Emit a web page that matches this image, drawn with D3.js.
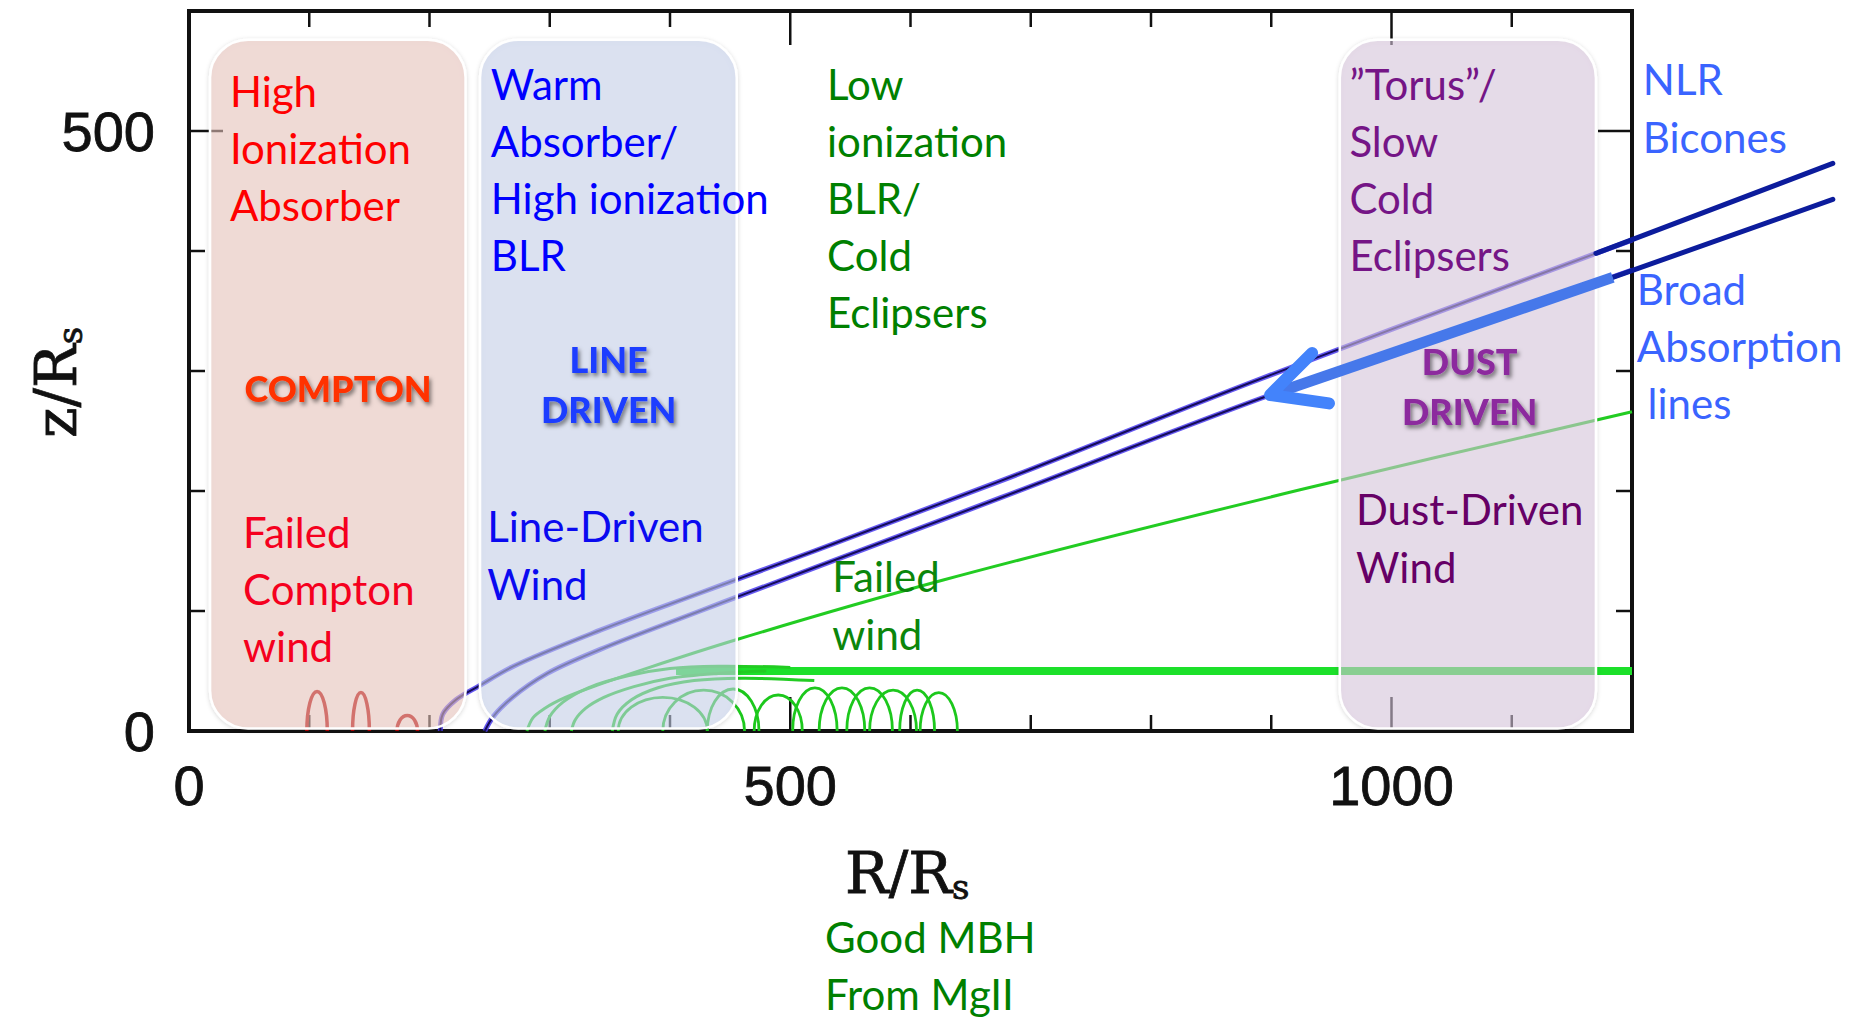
<!doctype html>
<html lang="en">
<head>
    <meta charset="utf-8">
    <title>AGN wind regimes</title>
    <script src="https://d3js.org/d3.v7.min.js"></script>
    <style>
        body { margin: 0; background: #fff; }
        svg text { font-family: Lato, "Open Sans", sans-serif; }
    </style>
</head>
<body>
<svg id="chart" width="1873" height="1021"></svg>
<script>
    // axis ticks (R/Rs and z/Rs)
    const xMajorTicks = [0, 500, 1000]
    const xMinorTicks = [100, 200, 300, 400, 600, 700, 800, 900, 1100]
    const yMajorTicks = [0, 500]
    const yMinorTicks = [100, 200, 300, 400]
    const xTickLabels = ['0', '500', '1000']
    const yTickLabels = ['0', '500']

    // streamlines, [R/Rs, z/Rs]
    const navyUpper = [[209,0],[211,14],[222,26],[242,38],[270,54],[342,84],[425,115],[520,150],[674,208],[882,290],[1170,398],[1200,409]]
    const navyLower = [[246,0],[253,12],[269,28],[298,48],[342,68],[425,100],[520,136],[674,194],[899,280],[1183,378],[1200,384]]
    const greenLong = [[281,0],[286,11],[296,19],[313,28],[342,39],[383,53],[455,76],[628,126],[924,201],[1200,266]]
    const greenInner = [[318,0],[321,9],[330,19],[345,28],[370,37],[400,44],[440,48],[480,50]]
    const greenMid = [[296,0],[300,12],[311,24],[332,36],[365,46],[400,52],[440,54],[500,53]]
    const greenShort = [[352,0],[356,14],[368,26],[390,36],[420,42],[460,44],[520,42]]
    const greenBand = [[405,50],[1200,50]]

    // failed-wind loops: [start R, end R, height z]
    const greenLoops = [[357,431,28],[394,462,34],[431,474,35],[470,510,30],[502,539,36],[524,562,36],[547,585,36],[566,605,34],[591,620,34],[608,639,32]]
    const comptonLoops = [[98,115,33],[136,150,32],[173,190,13]]

    // annotation strokes
    const nlrLines = [[[1170,398],[1367,473]], [[1184,378],[1367,443]]]
    const balArrow = [[1184,378],[899,280]]
    const balHead = [[[934,315],[899,280],[948,273]]]

    // shaded regions: [R from, R to], z span
    const regionR = [[17.5,230], [242,455.5], [957,1170]]
    const regionZ = [2, 576]
    const regionFill = ['#ecc6bf', '#c9d3ee', '#dac8e0']

    // labels
    const comptonTop = ['High', 'Ionization', 'Absorber']
    const comptonMid = ['COMPTON']
    const comptonLow = ['Failed', 'Compton', 'wind']
    const lineTop = ['Warm', 'Absorber/', 'High ionization', 'BLR']
    const lineMid = ['LINE', 'DRIVEN']
    const lineLow = ['Line-Driven', 'Wind']
    const coldTop = ['Low', 'ionization', 'BLR/', 'Cold', 'Eclipsers']
    const failedWind = ['Failed', 'wind']
    const mbhNote = ['Good MBH', 'From MgII']
    const dustTop = ['\u201DTorus\u201D/', 'Slow', 'Cold', 'Eclipsers']
    const dustMid = ['DUST', 'DRIVEN']
    const dustLow = ['Dust-Driven', 'Wind']
    const nlrNote = ['NLR', 'Bicones']
    const balNote = ['Broad', 'Absorption', ' lines']

    const svg = d3.select('#chart')

    const x = d3.scaleLinear().domain([0, 1200]).range([189, 1632])
    const y = d3.scaleLinear().domain([0, 600]).range([731, 11])

    const defs = svg.append('defs')
    defs.append('filter').attr('id', 'shadow')
        .attr('x', '-20%').attr('y', '-30%').attr('width', '140%').attr('height', '180%')
        .append('feDropShadow')
        .attr('dx', 2).attr('dy', 3).attr('stdDeviation', 2)
        .attr('flood-color', '#000').attr('flood-opacity', 0.5)
    defs.append('filter').attr('id', 'boxshadow')
        .attr('x', '-10%').attr('y', '-10%').attr('width', '120%').attr('height', '120%')
        .append('feDropShadow')
        .attr('dx', 0).attr('dy', 1).attr('stdDeviation', 2)
        .attr('flood-color', '#000').attr('flood-opacity', 0.18)
    defs.append('filter').attr('id', 'soft')
        .append('feGaussianBlur').attr('stdDeviation', 0.5)

    // frame and ticks
    const frame = svg.append('g')
    frame.append('rect')
        .attr('x', x(0)).attr('y', y(600))
        .attr('width', x(1200) - x(0)).attr('height', y(0) - y(600))
        .attr('fill', 'none').attr('stroke', '#111').attr('stroke-width', 4)

    const tickGroup = frame.append('g').attr('stroke', '#111').attr('stroke-width', 2.5)
    const addXTicks = (ticks, len) => {
        tickGroup.selectAll(null).data(ticks).join('line')
            .attr('x1', d => x(d)).attr('x2', d => x(d))
            .attr('y1', y(0)).attr('y2', y(0) - len)
        tickGroup.selectAll(null).data(ticks).join('line')
            .attr('x1', d => x(d)).attr('x2', d => x(d))
            .attr('y1', y(600)).attr('y2', y(600) + len)
    }
    const addYTicks = (ticks, len) => {
        tickGroup.selectAll(null).data(ticks).join('line')
            .attr('y1', d => y(d)).attr('y2', d => y(d))
            .attr('x1', x(0)).attr('x2', x(0) + len)
        tickGroup.selectAll(null).data(ticks).join('line')
            .attr('y1', d => y(d)).attr('y2', d => y(d))
            .attr('x1', x(1200)).attr('x2', x(1200) - len)
    }
    addXTicks(xMajorTicks, 34)
    addXTicks(xMinorTicks, 16)
    addYTicks(yMajorTicks, 34)
    addYTicks(yMinorTicks, 16)

    const tickFont = '"Liberation Sans", Arial, sans-serif'
    svg.append('g').selectAll('text').data(xMajorTicks).join('text')
        .attr('x', d => x(d)).attr('y', 805)
        .attr('text-anchor', 'middle')
        .style('font-family', tickFont).style('font-size', '56px')
        .attr('fill', '#111').attr('stroke', '#111').attr('stroke-width', 0.8)
        .text((d, i) => xTickLabels[i])
    svg.append('g').selectAll('text').data(yMajorTicks).join('text')
        .attr('x', x(0) - 34).attr('y', d => y(d)).attr('dy', '0.36em')
        .attr('text-anchor', 'end')
        .style('font-family', tickFont).style('font-size', '56px')
        .attr('fill', '#111').attr('stroke', '#111').attr('stroke-width', 0.8)
        .text((d, i) => yTickLabels[i])

    // axis titles
    const serif = '"DejaVu Serif", "Liberation Serif", serif'
    const xTitle = svg.append('text').attr('x', 845).attr('y', 893)
        .style('font-family', serif).style('font-size', '58px')
        .attr('fill', '#111').attr('stroke', '#111').attr('stroke-width', 0.8)
    xTitle.append('tspan').text('R/R')
    xTitle.append('tspan').attr('dy', 6).style('font-size', '34px').text('s')

    const yTitle = svg.append('text').attr('transform', 'translate(76,438) rotate(-90)')
        .style('font-family', serif).style('font-size', '58px')
        .attr('fill', '#111').attr('stroke', '#111').attr('stroke-width', 0.8)
    yTitle.append('tspan').text('z/R')
    yTitle.append('tspan').attr('dy', 6).style('font-size', '34px').text('s')

    // streamlines
    const curves = svg.append('g').attr('fill', 'none').attr('filter', 'url(#soft)')
    const lineGen = d3.line().x(d => x(d[0])).y(d => y(d[1])).curve(d3.curveCatmullRom)

    curves.append('path').datum(greenBand)
        .attr('d', lineGen).attr('stroke', '#1fe02a').attr('stroke-width', 8)
    curves.selectAll(null).data([greenLong, greenInner, greenMid, greenShort]).join('path')
        .attr('d', lineGen).attr('stroke', '#22cc22').attr('stroke-width', 3)

    const loopPath = d => {
        const x0 = x(d[0]), x1 = x(d[1])
        const rx = (x1 - x0) / 2, ry = y(0) - y(d[2])
        return `M${x0},${y(0)} A${rx},${ry} 0 0 1 ${x1},${y(0)}`
    }
    curves.selectAll(null).data(greenLoops).join('path')
        .attr('d', loopPath).attr('stroke', '#1ec81e').attr('stroke-width', 2.8)
    curves.selectAll(null).data(comptonLoops).join('path')
        .attr('d', loopPath).attr('stroke', '#b80000').attr('stroke-width', 3.5)

    curves.selectAll(null).data([navyUpper, navyLower]).join('path')
        .attr('d', lineGen).attr('stroke', '#4b3cf0').attr('stroke-width', 5).attr('stroke-opacity', 0.85)
    curves.selectAll(null).data([navyUpper, navyLower]).join('path')
        .attr('d', lineGen).attr('stroke', '#120a58').attr('stroke-width', 2)

    // shaded regions over the plot
    svg.append('g').selectAll('rect').data(regionR).join('rect')
        .attr('x', d => x(d[0])).attr('width', d => x(d[1]) - x(d[0]))
        .attr('y', y(regionZ[1])).attr('height', y(regionZ[0]) - y(regionZ[1]))
        .attr('rx', 38).attr('ry', 38)
        .attr('fill', (d, i) => regionFill[i]).attr('fill-opacity', 0.55)
        .attr('stroke', '#fff').attr('stroke-width', 2.5)
        .attr('filter', 'url(#boxshadow)')

    // annotation strokes
    const notes = svg.append('g').attr('fill', 'none').attr('stroke-linecap', 'round')
    notes.selectAll(null).data(nlrLines).join('path')
        .attr('d', lineGen.curve(d3.curveLinear)).attr('stroke', '#0c1c9c').attr('stroke-width', 5)
    notes.append('path').datum(balArrow)
        .attr('d', lineGen).attr('stroke', '#4678ea').attr('stroke-width', 11).attr('stroke-linecap', 'butt')
    notes.selectAll(null).data(balHead).join('path')
        .attr('d', lineGen).attr('stroke', '#4383fb').attr('stroke-width', 12).attr('stroke-linejoin', 'round')

    // text blocks anchored in data space
    const block = (lines, r, z, opts) => {
        const t = svg.append('text')
            .attr('x', x(r)).attr('y', y(z))
            .attr('fill', opts.color)
            .attr('text-anchor', opts.anchor || 'start')
            .style('font-size', (opts.size || 42) + 'px')
            .style('font-weight', opts.weight || 400)
        if (opts.shadow) t.attr('filter', 'url(#shadow)')
        t.selectAll('tspan').data(lines).join('tspan')
            .attr('x', x(r))
            .attr('dy', (d, i) => i === 0 ? 0 : (opts.lead || 57))
            .style('white-space', 'pre')
            .text(d => d)
    }

    block(comptonTop, 34, 520, {color: '#ff0000'})
    block(comptonMid, 124, 274, {color: '#ff3300', anchor: 'middle', size: 36, weight: 900, shadow: true})
    block(comptonLow, 45, 152.5, {color: '#f5001e'})

    block(lineTop, 251, 526, {color: '#0000ff'})
    block(lineMid, 349, 298, {color: '#1c3cff', anchor: 'middle', size: 36, weight: 900, shadow: true, lead: 50})
    block(lineLow, 248, 157.5, {color: '#0a0af0', lead: 58})

    block(coldTop, 530.6, 526, {color: '#008000', lead: 57})
    block(failedWind, 535, 116, {color: '#0b860b', lead: 58})
    block(mbhNote, 529, -185, {color: '#008000'})

    block(dustTop, 965, 526, {color: '#751586'})
    block(dustMid, 1065, 297, {color: '#8c2a9e', anchor: 'middle', size: 36, weight: 900, shadow: true, lead: 50})
    block(dustLow, 970.5, 171.5, {color: '#660066', lead: 58})

    block(nlrNote, 1209, 530, {color: '#3a64ff', lead: 58})
    block(balNote, 1204, 355, {color: '#3a64ff', lead: 57})
</script>
</body>
</html>
